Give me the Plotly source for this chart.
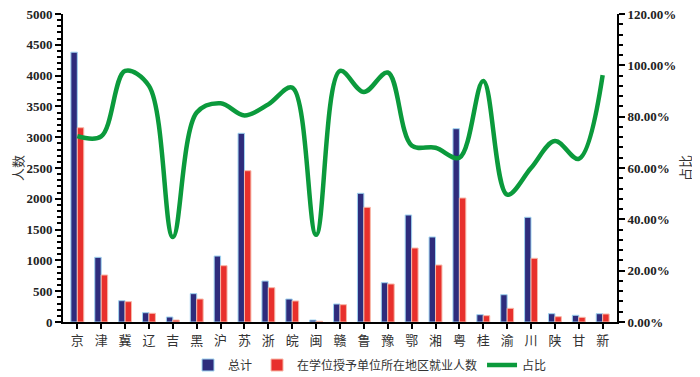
import plotly.graph_objects as go

categories = ["京","津","冀","辽","吉","黑","沪","苏","浙","皖","闽","赣","鲁","豫","鄂","湘","粤","桂","渝","川","陕","甘","新"]
total = [4380,1050,346,151,81,460,1071,3063,665,373,32,292,2089,638,1737,1380,3138,119,443,1700,135,109,135]
local = [3154,763,330,141,32,373,914,2456,557,341,11,281,1862,617,1201,925,2013,103,222,1034,86,76,130]
ratio = [0.724,0.723,0.978,0.92,0.331,0.816,0.852,0.805,0.848,0.913,0.34,0.978,0.896,0.972,0.688,0.679,0.64,0.939,0.496,0.60,0.705,0.636,0.962]

left_ticks = list(range(0, 5001, 500))
right_ticks = [0, 0.2, 0.4, 0.6, 0.8, 1.0, 1.2]

fig = go.Figure()
fig.add_trace(go.Bar(x=categories, y=total, name="总计",
                     marker=dict(color="#2E2C7C", line=dict(color="#9FD3F0", width=1))))
fig.add_trace(go.Bar(x=categories, y=local, name="在学位授予单位所在地区就业人数",
                     marker=dict(color="#E8302C", line=dict(color="#F7B8A8", width=1))))
fig.add_trace(go.Scatter(x=categories, y=ratio, name="占比", yaxis="y2", mode="lines",
                         line=dict(color="#0B9A3C", width=4.5, shape="spline", smoothing=1.0)))

# page body has an 8px margin, so offset everything by -8px
L, R, T, B = 55, 91, 6, 63
tickfont = dict(family="Liberation Serif", size=13, color="#222", weight="bold")
titlefont = dict(family="Noto Sans CJK SC", size=13, color="#333")
fig.update_layout(
    width=700, height=377,
    margin=dict(l=L, r=R, t=T, b=B, autoexpand=False),
    plot_bgcolor="white", paper_bgcolor="white",
    barmode="group", bargap=0.46, bargroupgap=0.0,
    font=dict(family="Noto Sans CJK SC", color="#333"),
    showlegend=True,
    legend=dict(orientation="h", x=(180 - L) / (700 - L - R), xref="paper", xanchor="left",
                y=(377 - 357) / 377, yref="container", yanchor="middle",
                font=dict(family="Noto Sans CJK SC", size=12, color="#333"),
                itemwidth=30, traceorder="normal"),
    xaxis=dict(showline=True, linecolor="black", linewidth=2, ticks="outside", ticklen=5,
               tickcolor="black", tickwidth=1.5, automargin=False,
               tickfont=dict(family="Noto Sans CJK SC", size=13, color="#333"),
               range=[-0.6, 22.6]),
    yaxis=dict(range=[0, 5000], tickvals=left_ticks, showgrid=False, zeroline=False, automargin=False,
               showline=True, linecolor="black", linewidth=2, ticks="outside", ticklen=6,
               tickcolor="black", tickwidth=1.5, tickfont=tickfont, ticklabeloverflow="allow",
               minor=dict(dtick=100, ticks="outside", ticklen=4, tickcolor="black", tickwidth=1.5),
               title=dict(text="人数", font=titlefont, standoff=12)),
    yaxis2=dict(range=[0, 1.2], tickvals=right_ticks, tickformat=".2%", overlaying="y", side="right",
                showgrid=False, zeroline=False, showline=True, linecolor="black", linewidth=2,
                automargin=False, ticklabeloverflow="allow",
                ticks="outside", ticklen=6, tickcolor="black", tickwidth=1.5, tickfont=tickfont,
                minor=dict(dtick=0.04, ticks="outside", ticklen=4, tickcolor="black", tickwidth=1.5),
                title=dict(text="占比", font=titlefont, standoff=6)),
)
fig.write_html("out.html")
